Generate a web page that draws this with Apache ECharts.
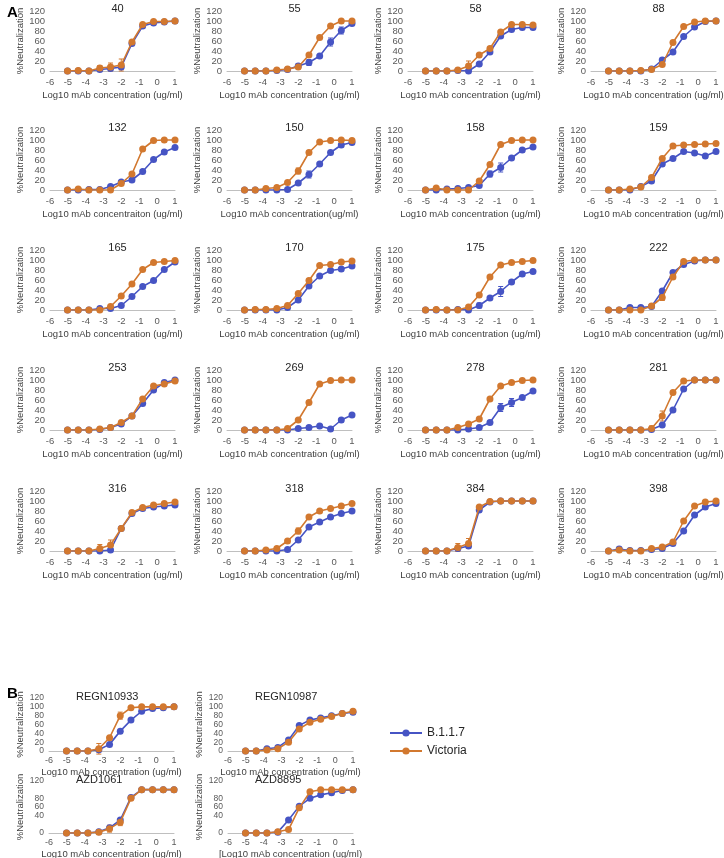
<!DOCTYPE html>
<html>
<head>
<meta charset="utf-8">
<script src="https://cdn.jsdelivr.net/npm/echarts@6/dist/echarts.min.js"></script>
<style>
html,body{margin:0;padding:0;background:#fff;}
#chart{width:724px;height:858px;}
</style>
</head>
<body>
<div id="chart"></div>
<script>
// ---- data ----
const xLog = [-5.02, -4.42, -3.82, -3.21, -2.61, -2.01, -1.41, -0.81, -0.20, 0.40, 1.00];
const panelNames = ["40","55","58","88","132","150","158","159","165","170","175","222",
  "253","269","278","281","316","318","384","398","REGN10933","REGN10987","AZD1061","AZD8895"];
const xAxisNames = [
  "Log10 mAb concentration (ug/ml)","Log10 mAb concentration (ug/ml)","Log10 mAb concentration (ug/ml)","Log10 mAb concentration (ug/ml)",
  "Log10 mAb concentraiton (ug/ml)","Log10 mAb concentration(ug/ml)","Log10 mAb concentration (ug/ml)","Log10 mAb concentration (ug/ml)",
  "Log10 mAb concentration (ug/ml)","Log10 mAb concentration (ug/ml)","Log10 mAb concentration (ug/ml)","Log10 mAb concentration (ug/ml)",
  "Log10 mAb concentration (ug/ml)","Log10 mAb concentration (ug/ml)","Log10 mAb concentration (ug/ml)","Log10 mAb concentration (ug/ml)",
  "Log10 mAb concentration (ug/ml)","Log10 mAb concentration (ug/ml)","Log10 mAb concentration (ug/ml)","Log10 mAb concentration (ug/ml)",
  "Log10 mAb concentration (ug/ml)","Log10 mAb concentration (ug/ml)","Log10 mAb concentration (ug/ml)","[Log10 mAb concentration (ug/ml)"];
const seriesNames = ["B.1.1.7", "Victoria"];
const b117Values = [
  [0,0,0,3,5,8,55,90,96,98,100],        // 40
  [0,0,0,1,3,10,17,30,58,81,95],        // 55
  [0,0,0,1,0,14,38,70,83,87,87],        // 58
  [0,0,0,0,4,22,38,69,88,99,100],       // 88
  [0,0,1,1,7,16,20,37,61,76,85],        // 132
  [0,0,0,0,1,14,31,52,75,90,95],        // 150
  [0,0,2,3,5,9,32,45,64,80,86],         // 158
  [0,0,0,7,18,52,63,77,74,68,77],       // 159
  [0,0,0,3,3,9,27,47,59,81,96],         // 165
  [0,0,0,0,5,20,48,68,79,82,88],        // 170
  [0,0,0,1,0,9,24,37,56,72,77],         // 175
  [0,0,5,5,7,38,75,91,98,100,100],      // 222
  [0,0,0,1,5,12,28,53,80,95,100],       // 253
  [0,0,0,0,0,3,5,8,2,20,30],            // 269
  [0,0,0,0,2,5,15,45,55,65,78],         // 278
  [0,0,0,0,1,10,40,82,100,100,100],     // 281
  [0,0,0,0,2,45,75,85,88,90,92],        // 316
  [0,0,0,0,3,22,48,58,68,75,80],        // 318
  [0,0,0,5,10,82,98,100,100,100,100],   // 384
  [0,4,1,1,3,5,15,40,72,88,95],         // 398
  [0,0,0,3,15,45,70,90,96,98,100],      // REGN10933
  [0,0,5,8,25,58,70,75,80,85,88],       // REGN10987
  [0,0,0,3,12,30,82,100,100,100,100],   // AZD1061
  [0,0,0,2,30,62,80,88,93,98,100]       // AZD8895
];
const victoriaValues = [
  [0,1,0,6,8,12,58,93,99,99,100],       // 40
  [0,0,0,2,4,8,32,67,90,100,100],       // 55
  [0,0,0,2,10,32,45,78,93,93,92],       // 58
  [0,0,0,1,3,13,57,89,98,100,100],      // 88
  [0,2,0,0,0,13,32,82,99,100,100],      // 132
  [0,0,3,5,15,38,75,96,99,100,99],      // 150
  [0,4,0,0,0,18,51,91,99,100,100],      // 158
  [0,0,2,6,25,63,88,90,91,92,93],       // 159
  [0,0,0,0,7,28,52,81,95,97,99],        // 165
  [0,1,1,3,9,33,59,89,91,96,98],        // 170
  [0,1,0,0,6,30,66,90,95,97,99],        // 175
  [0,0,0,0,8,25,66,97,100,100,100],     // 222
  [0,0,0,2,5,15,28,62,88,92,98],        // 253
  [0,0,0,0,3,20,55,92,99,100,100],      // 269
  [0,0,0,5,12,22,62,88,95,99,100],      // 278
  [0,0,0,0,3,28,75,98,100,100,100],     // 281
  [0,0,0,5,12,45,77,87,92,95,98],       // 316
  [0,0,2,5,20,40,68,80,85,90,95],       // 318
  [0,0,0,7,15,88,99,100,100,100,100],   // 384
  [0,2,0,0,5,8,18,60,90,98,100],        // 398
  [0,0,0,5,30,80,98,100,100,100,100],   // REGN10933
  [0,0,2,5,20,50,65,72,78,85,90],       // REGN10987
  [0,0,0,2,10,25,80,100,100,100,100],   // AZD1061
  [0,0,0,3,8,58,95,100,100,100,100]     // AZD8895
];
// [panel index, series index (0 B.1.1.7, 1 Victoria), point index, +/- error]
const errorBars = [
  [0,1,3,5],[0,1,4,8],[0,1,5,12],[0,0,3,3],
  [1,0,5,5],[1,0,6,6],[1,0,8,8],[1,0,9,7],
  [2,1,4,10],
  [3,0,5,4],
  [5,1,5,6],[5,0,6,7],[5,1,3,3],
  [6,0,6,6],[6,0,7,9],
  [10,0,7,10],[10,0,5,5],
  [11,1,5,6],
  [14,0,7,8],[14,0,8,8],
  [15,1,5,10],[15,1,4,5],
  [16,1,3,8],[16,1,4,10],
  [17,1,5,6],
  [18,1,3,8],[18,1,4,10],
  [19,0,1,4],
  [20,1,3,12],[20,1,5,8],
  [22,1,4,8],[22,1,5,8]
];
const yTickMin = 0, yTickMax = 120, yTickStep = 20;
const xTickMin = -6, xTickMax = 1, xTickStep = 1;

// ---- layout ----
const colorsBySeries = ["#4654C4", "#D2782F"];
const FONT = "Liberation Sans";
const colLeftA = [50, 227, 408, 591];
const rowTopA = [11, 130, 250, 370, 491];
const colLeftB = [49, 228];
const rowTopB = [698, 781];
const plotHB = [53, 52];
const plotW = 125, plotHA = 60;

function panelBox(i) {
  if (i < 20) {
    return {left: colLeftA[i % 4], top: rowTopA[Math.floor(i / 4)], width: plotW, height: plotHA, section: "A"};
  }
  const j = i - 20;
  const r = Math.floor(j / 2);
  return {left: colLeftB[j % 2], top: rowTopB[r], width: plotW, height: plotHB[r], section: "B"};
}

const grids = [], xAxes = [], yAxes = [], series = [], titles = [];
const labelColor = "#595959";
panelNames.forEach((name, i) => {
  const b = panelBox(i);
  const isB = b.section === "B";
  grids.push({left: b.left, top: b.top, width: b.width, height: b.height, containLabel: false, outerBoundsMode: "none"});
  xAxes.push({
    type: "value", gridIndex: i, min: xTickMin, max: xTickMax, interval: xTickStep,
    name: xAxisNames[i], nameLocation: "middle", nameGap: isB ? 16 : 19,
    nameTextStyle: {fontSize: 9.5, color: "#404040", fontFamily: FONT},
    axisLine: {show: true, onZero: false, lineStyle: {color: "#bfbfbf", width: 1}},
    axisTick: {show: false},
    splitLine: {show: false},
    axisLabel: {fontSize: isB ? 9 : 9.5, color: labelColor, fontFamily: FONT, margin: isB ? 5 : 6, showMinLabel: true, showMaxLabel: true}
  });
  yAxes.push({
    type: "value", gridIndex: i, min: yTickMin, max: yTickMax, interval: yTickStep,
    name: "%Neutralization", nameLocation: "middle", nameGap: 24, nameRotate: 90,
    nameTextStyle: {fontSize: 9.5, color: "#404040", fontFamily: FONT},
    axisLine: {show: false},
    axisTick: {show: false},
    splitLine: {show: false},
    axisLabel: {fontSize: isB ? 8.5 : 9.5, color: labelColor, fontFamily: FONT, margin: 5,
      showMinLabel: true, showMaxLabel: true, hideOverlap: false}
  });
  const tx = isB ? b.left + 22 : b.left + b.width / 2;
  titles.push({
    text: name, left: tx, top: b.top - (isB ? 12 : 13),
    textAlign: isB ? "left" : "center",
    textStyle: {fontSize: 11, fontWeight: "normal", color: "#262626", fontFamily: FONT}
  });
  [b117Values[i], victoriaValues[i]].forEach((vals, s) => {
    series.push({
      name: seriesNames[s], type: "line", xAxisIndex: i, yAxisIndex: i,
      data: xLog.map((x, k) => [x, vals[k]]),
      symbol: "circle", symbolSize: 7, showSymbol: true,
      lineStyle: {color: colorsBySeries[s], width: 1.6},
      itemStyle: {color: colorsBySeries[s]},
      animation: false, z: 3 + s
    });
  });
  const errs = errorBars.filter(e => e[0] === i);
  if (errs.length) {
    series.push({
      name: "err" + i, type: "custom", xAxisIndex: i, yAxisIndex: i,
      data: errs.map(e => {
        const v = (e[1] === 0 ? b117Values : victoriaValues)[i][e[2]];
        return [xLog[e[2]], v - e[3], v + e[3], e[1]];
      }),
      renderItem: function (params, api) {
        const x = api.value(0), lo = api.value(1), hi = api.value(2), s = api.value(3);
        const p1 = api.coord([x, lo]), p2 = api.coord([x, hi]);
        const c = colorsBySeries[s];
        const st = {stroke: c, lineWidth: 1};
        return {type: "group", children: [
          {type: "line", shape: {x1: p1[0], y1: p1[1], x2: p2[0], y2: p2[1]}, style: st},
          {type: "line", shape: {x1: p1[0] - 2.5, y1: p1[1], x2: p1[0] + 2.5, y2: p1[1]}, style: st},
          {type: "line", shape: {x1: p2[0] - 2.5, y1: p2[1], x2: p2[0] + 2.5, y2: p2[1]}, style: st}
        ]};
      },
      animation: false, z: 2
    });
  }
});

titles.push({text: "A", left: 2, top: 0, textStyle: {fontSize: 15, fontWeight: "bold", color: "#000", fontFamily: FONT}});
titles.push({text: "B", left: 2, top: 681, textStyle: {fontSize: 15, fontWeight: "bold", color: "#000", fontFamily: FONT}});

const chart = echarts.init(document.getElementById("chart"), null, {renderer: "canvas"});
chart.setOption({
  backgroundColor: "#ffffff",
  animation: false,
  title: titles,
  grid: grids,
  xAxis: xAxes,
  yAxis: yAxes,
  legend: {
    data: seriesNames, orient: "vertical", left: 384, top: 722,
    itemWidth: 32, itemHeight: 9, itemGap: 6,
    textStyle: {fontSize: 12, color: "#262626", fontFamily: FONT}
  },
  series: series
});
</script>
</body>
</html>
